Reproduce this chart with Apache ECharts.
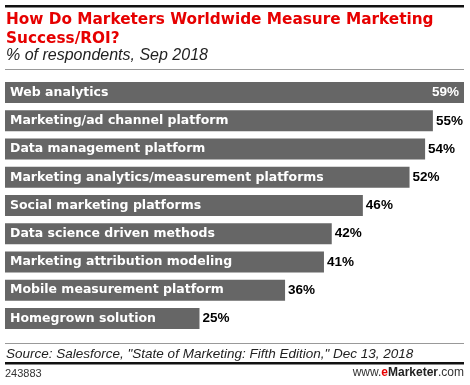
<!DOCTYPE html>
<html><head><meta charset="utf-8">
<script src="https://cdn.jsdelivr.net/npm/echarts@6/dist/echarts.min.js"></script>
<style>html,body{margin:0;padding:0;background:#fff}#c{width:470px;height:385px}</style>
</head><body><div id="c"></div>
<script>
const categories = ["Web analytics","Marketing/ad channel platform","Data management platform","Marketing analytics/measurement platforms","Social marketing platforms","Data science driven methods","Marketing attribution modeling","Mobile measurement platform","Homegrown solution"];
const values = [59,55,54,52,46,42,41,36,25];

const chart = echarts.init(document.getElementById('c'), null, {renderer:'canvas'});
const FONT = '"Liberation Sans", Arial, sans-serif';
const BFONT = '"DejaVu Sans", sans-serif';
chart.setOption({
  animation:false,
  grid:{left:5,right:6,top:78.5,height:254},
  xAxis:{type:'value',min:0,max:59,show:false},
  yAxis:{type:'category',data:categories,inverse:true,show:false},
  series:[
    {type:'bar',data:values.map((v,i)=>i===0?{value:v,label:{position:'insideRight',color:'#fff',distance:5}}:v),
     barWidth:21,itemStyle:{color:'#666666'},
     label:{show:true,position:'right',distance:3,formatter:'{c}%',color:'#000',fontFamily:FONT,fontWeight:'bold',fontSize:13.5}},
    {type:'bar',data:values,barWidth:21,barGap:'-100%',itemStyle:{color:'rgba(0,0,0,0)'},z:3,
     label:{show:true,position:'insideLeft',distance:5,formatter:p=>categories[p.dataIndex],color:'#fff',fontFamily:BFONT,fontWeight:'bold',fontSize:12.5}}
  ],
  graphic:[
    {type:'rect',shape:{x:5,y:5,width:459,height:2.5},style:{fill:'#111'}},
    {type:'text',left:6,top:11,style:{text:'How Do Marketers Worldwide Measure Marketing\nSuccess/ROI?',fill:'#e60000',font:'bold 15.3px '+BFONT,lineHeight:19}},
    {type:'text',left:6,top:48,style:{text:'% of respondents, Sep 2018',fill:'#222',font:'italic 16px '+FONT}},
    {type:'rect',shape:{x:5,y:69,width:459,height:1},style:{fill:'#999'}},
    {type:'rect',shape:{x:5,y:343,width:459,height:1},style:{fill:'#999'}},
    {type:'text',left:6,top:347,style:{text:'Source: Salesforce, "State of Marketing: Fifth Edition," Dec 13, 2018',fill:'#222',font:'italic 13.5px '+FONT}},
    {type:'rect',shape:{x:5,y:362,width:459,height:2.5},style:{fill:'#111'}},
    {type:'text',left:5,top:368,style:{text:'243883',fill:'#333',font:'11px '+FONT}},
    {type:'text',right:6,top:367,style:{text:'{a|www.}{b|e}{c|Marketer}{a|.com}',rich:{
      a:{fill:'#333',font:'12px '+FONT},b:{fill:'#e60000',font:'bold 12px '+FONT},c:{fill:'#222',font:'bold 12px '+FONT}}}}
  ]
});
</script></body></html>
